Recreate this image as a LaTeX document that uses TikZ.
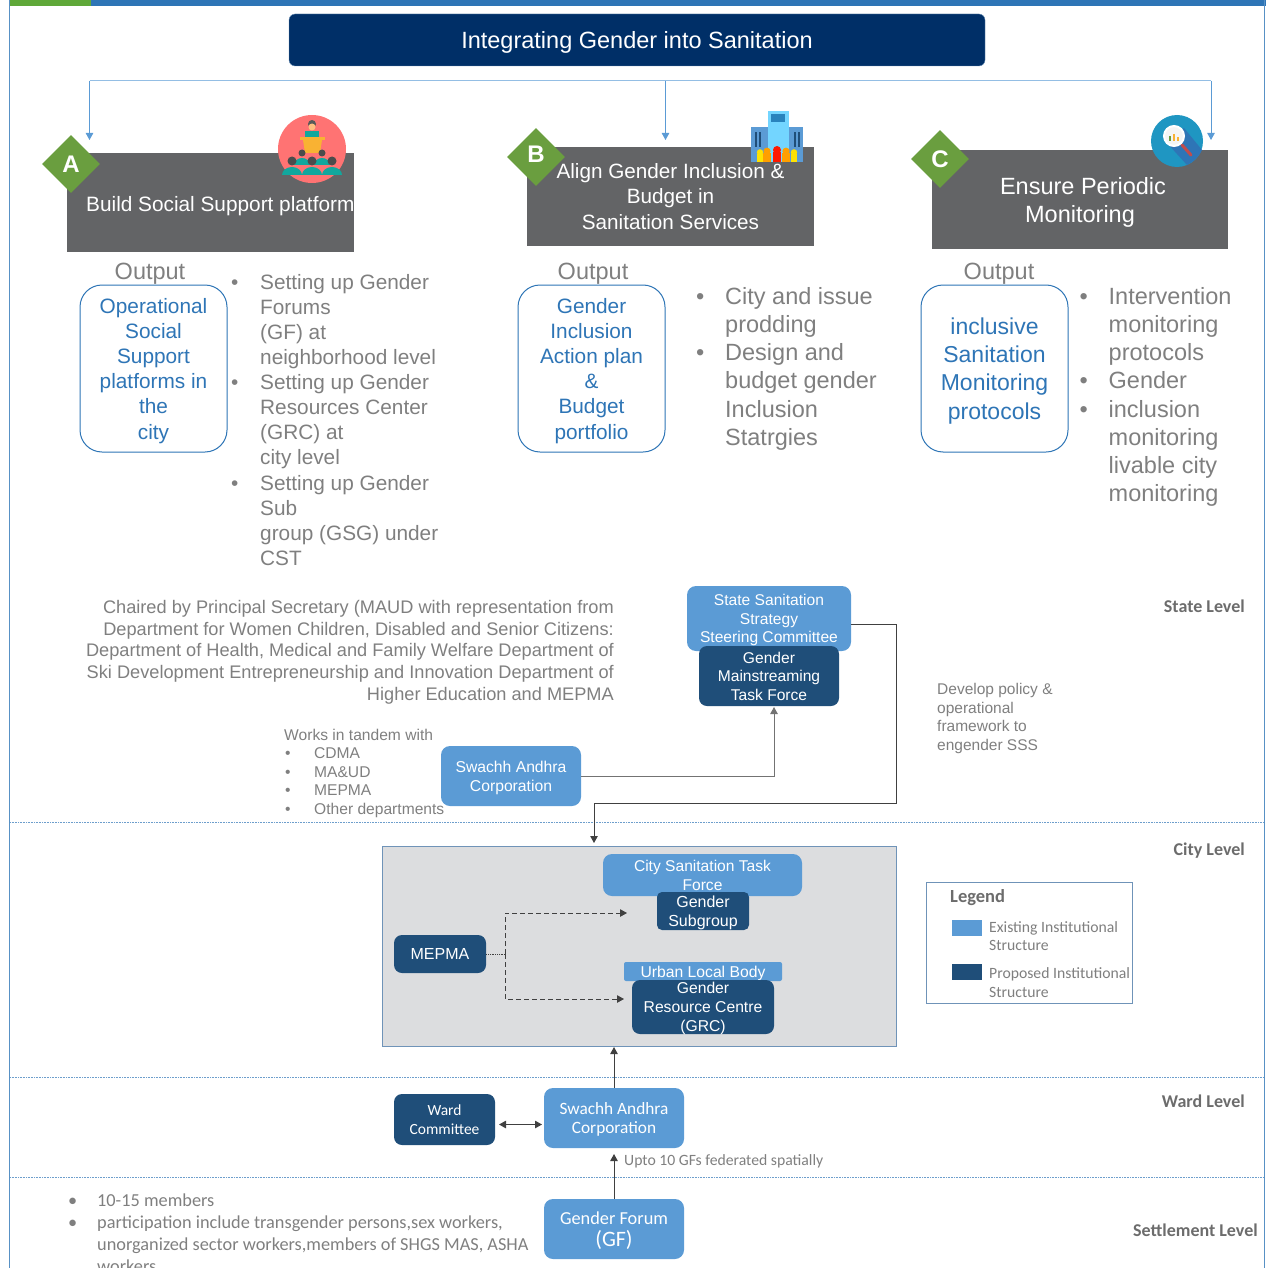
\documentclass[tikz,border=0pt]{standalone}
\usepackage{fontspec}
\setmainfont{Liberation Sans}
\newfontfamily\calibri{Carlito}
\usetikzlibrary{arrows.meta,positioning,shapes.geometric}
\definecolor{headgray}{HTML}{636466}
\definecolor{txtgray}{HTML}{7F7F7F}
\definecolor{lightblue}{HTML}{5B9BD5}
\definecolor{darkblue}{HTML}{1F4E79}
\definecolor{navy}{HTML}{002F67}
\definecolor{midblue}{HTML}{2E75B6}
\definecolor{leafgreen}{HTML}{6A9E3F}
\definecolor{cityfill}{HTML}{DCDDDF}
\definecolor{frameblue}{HTML}{6F93B8}
\definecolor{panelteal}{HTML}{12A79D}
\definecolor{podium}{HTML}{F9B233}
\newcommand{\fsz}[2]{\fontsize{#1}{#2}\selectfont}
\newcommand{\bul}{\makebox[26pt][l]{\hspace{-3pt}\textbullet}}
\newcommand{\nob}{\hspace*{26pt}}
\tikzset{
    plan/.style={x=1pt,y=-1pt,>={Triangle[length=7pt,width=7.5pt]}},
    header/.style={rectangle,fill=headgray,text=white,align=center,inner sep=0pt,
                   minimum width=287pt,minimum height=99pt,text depth=-1.5pt},
    letter/.style={diamond,fill=leafgreen,text=white,inner sep=0pt,minimum width=58pt,
                   minimum height=58pt,font=\fsz{24}{24}\bfseries},
    outbox/.style={rectangle,rounded corners=22pt,draw=midblue,line width=1pt,fill=white,text=midblue,
                   align=center,inner sep=0pt,minimum width=147pt,minimum height=167pt,text depth=-2pt},
    outlabel/.style={text=txtgray,inner sep=0pt,font=\fsz{23.5}{23.5}},
    bodytext/.style={text=txtgray,align=left,anchor=north west,inner sep=0pt},
    exist/.style={rectangle,rounded corners=9pt,fill=lightblue,text=white,align=center,inner sep=0pt,text depth=-1pt},
    propose/.style={rectangle,rounded corners=8pt,fill=darkblue,text=white,align=center,inner sep=0pt,text depth=-1pt},
    level/.style={text=txtgray!85!black,anchor=east,inner sep=0pt,font=\calibri\fsz{18}{18}\bfseries},
    sep/.style={midblue!70,densely dotted,line width=0.6pt},
    feed/.style={lightblue,line width=0.8pt,->},
    link/.style={black!75,line width=1pt,->},
    dashlink/.style={black!75,line width=1pt,dash pattern=on 5pt off 3pt,->},
}
\begin{document}
\begin{tikzpicture}[plan]
    \useasboundingbox (0,0) rectangle (1266,1268);

    % page frame
    \fill[midblue] (10,0) rectangle (1266,6);
    \fill[leafgreen!90!green] (10,0) rectangle (91,6);
    \draw[midblue!80,line width=0.8pt] (9.8,0) -- (9.8,1268);
    \draw[midblue!80,line width=0.8pt] (1264.6,0) -- (1264.6,1268);
    \draw[sep] (10,822.5) -- (1264,822.5);
    \draw[sep] (10,1077) -- (1264,1077);
    \draw[sep] (10,1177.5) -- (1264,1177.5);

    % title and the three branches
    \node[rectangle,rounded corners=6pt,fill=navy,draw=frameblue,text=white,minimum width=696pt,
          minimum height=52pt,inner sep=0pt,text depth=-1pt,font=\fsz{23.5}{24}] (title) at (637,40) {Integrating Gender into Sanitation};
    \coordinate (ba) at (89.5,81);
    \coordinate (bb) at (665.5,81);
    \coordinate (bc) at (1211,81);
    \coordinate (ta) at (89.5,140);
    \coordinate (tb) at (665.5,140);
    \coordinate (tc) at (1211,140);
    \draw[lightblue!65,line width=1pt] (ba) -- (bc);
    \path[feed] (ba) edge (ta);
    \path[feed] (bb) edge (tb);
    \path[feed] (bc) edge (tc);

    % headers
    \node[header] (heada) at (210.5,202.5) {};
    \node[anchor=west,text=white,inner sep=0pt,font=\fsz{20.8}{25.5}] (headatxt) at (86,206) {Build Social Support platform};
    \node[header,font=\fsz{20.7}{25.5}] (headb) at (670.5,196.5) {Align Gender Inclusion \&\\Budget in\\Sanitation Services};
    \node[header,minimum width=296pt,font=\fsz{23.5}{28}] (headc) at (1080,199.5) {\hspace*{6pt}Ensure Periodic\\Monitoring};
    \node[letter] (la) at (71,164) {A};
    \node[letter,text depth=6pt] (lb) at (536,157) {B};
    \node[letter] (lc) at (940,159) {C};

    % icon A
    \fill[red!55!white] (312,149) ellipse (34 and 34);
    \fill[black!65] (312,124) circle (4);
    \fill[orange!50!white] (312,127) circle (3.5);
    \fill[panelteal] (305,137) rectangle (319,131);
    \fill[podium] (300,137) rectangle (325,140);
    \fill[podium] (303,140) -- (322,140) -- (320,153) -- (305,153) -- cycle;
    \foreach \hx in {302,322} {
        \fill[black!70] (\hx,153) circle (3.5);
        \fill[panelteal] (\hx-8,165) arc[start angle=180,end angle=360,x radius=8,y radius=7] -- cycle;
    }
    \foreach \hx in {292,312,332} {
        \fill[black!70] (\hx,161) circle (4.5);
        \fill[panelteal] (\hx-10,175) arc[start angle=180,end angle=360,x radius=10,y radius=8] -- cycle;
    }

    % icon B
    \fill[lightblue] (751,127) rectangle (803,162);
    \fill[blue!30!cyan!55!white] (768,111) rectangle (789,162);
    \fill[midblue!90!cyan] (771,114) rectangle (785,122);
    \fill[darkblue] (755,132) rectangle (757,147);
    \fill[darkblue] (759,132) rectangle (761,147);
    \fill[darkblue] (794,132) rectangle (796,147);
    \fill[darkblue] (798,132) rectangle (800,147);
    \foreach \px/\pc/\pr in {760/yellow!85!orange/3.2,767/orange!75!yellow/3.6,794/yellow!85!orange/3.2,786/orange!75!yellow/3.6,777/red!80!orange/4} {
        \fill[\pc] (\px,162-3*\pr) circle (\pr);
        \fill[\pc] (\px-\pr,162) rectangle (\px+\pr,162-2.6*\pr);
    }

    % icon C
    \fill[midblue!70!cyan!95!black] (1177,141) circle (26);
    \fill[midblue] (1167,143) -- (1184,128) -- (1202,150) .. controls (1198,158) and (1193,162) .. (1187,165) -- cycle;
    \draw[line width=3pt,red!65!black!70!white,line cap=round] (1182,145) -- (1191,155);
    \draw[white,fill=cityfill!30!white,line width=2pt] (1174,136) circle (10);
    \fill[leafgreen] (1169,136) rectangle (1171,141);
    \fill[podium] (1173,134) rectangle (1175,141);
    \fill[podium] (1177,137) rectangle (1179,141);

    % output columns
    \node[outlabel] (oa) at (150,274) {Output};
    \node[outlabel] (ob) at (593,274) {Output};
    \node[outlabel] (oc) at (999,274) {Output};
    \node[outbox,font=\fsz{20.8}{25.2}] (boxa) at (153.5,368.5) {Operational\\Social\\Support\\platforms in\\the\\city};
    \node[outbox,font=\fsz{20.8}{25.2}] (boxb) at (591.5,368.5) {Gender\\Inclusion\\Action plan\\\&\\Budget\\portfolio};
    \node[outbox,text depth=-3.5pt,font=\fsz{23}{28.2}] (boxc) at (994.5,368.5) {inclusive\\Sanitation\\Monitoring\\protocols};

    \node[bodytext,font=\fsz{20.8}{25.1}] (lista) at (234,274) {\bul Setting up Gender\\\nob Forums\\\nob (GF) at\\\nob neighborhood level\\\bul Setting up Gender\\\nob Resources Center\\\nob (GRC) at\\\nob city level\\\bul Setting up Gender\\\nob Sub\\\nob group (GSG) under\\\nob CST};
    \node[bodytext,font=\fsz{23.5}{28.2}] (listb) at (699,287) {\bul City and issue\\\nob prodding\\\bul Design and\\\nob budget gender\\\nob Inclusion\\\nob Statrgies};
    \node[bodytext,font=\fsz{23.5}{28.2}] (listc) at (1082.5,287) {\bul Intervention\\\nob monitoring\\\nob protocols\\\bul Gender\\\bul inclusion\\\nob monitoring\\\nob livable city\\\nob monitoring};

    % state level
    \node[level] (lvs) at (1245,606) {State Level};
    \node[text=txtgray,align=right,anchor=north east,inner sep=0pt,font=\fsz{18.2}{21.8}] (chair) at (614,600) {Chaired by Principal Secretary (MAUD with representation from\\Department for Women Children, Disabled and Senior Citizens:\\Department of Health, Medical and Family Welfare Department of\\Ski Development Entrepreneurship and Innovation Department of\\Higher Education and MEPMA};
    \node[bodytext,font=\fsz{15.6}{18.6}] (tandem) at (284,728.5) {Works in tandem with\\\makebox[30pt][l]{\hspace{1pt}\textbullet}CDMA\\\makebox[30pt][l]{\hspace{1pt}\textbullet}MA\&UD\\\makebox[30pt][l]{\hspace{1pt}\textbullet}MEPMA\\\makebox[30pt][l]{\hspace{1pt}\textbullet}Other departments};
    \node[bodytext,font=\fsz{15.5}{18.4}] (policy) at (937,683.5) {Develop policy \&\\operational\\framework to\\engender SSS};
    \node[exist,minimum width=164pt,minimum height=65pt,text depth=-2pt,font=\fsz{15.6}{18.6}] (sssc) at (769,618.5) {State Sanitation\\Strategy\\Steering Committee};
    \node[propose,minimum width=140pt,minimum height=60pt,text depth=-5pt,font=\fsz{15.6}{18.6}] (gmtf) at (769,676) {Gender\\Mainstreaming\\Task Force};
    \node[exist,minimum width=140pt,minimum height=60pt,font=\fsz{15.7}{19}] (sac) at (511,776) {Swachh Andhra\\Corporation};
    \coordinate (ssscout) at (851,624);
    \coordinate (gmtfin) at (774,707);
    \coordinate (citytop) at (594,843);
    \coordinate (turn) at (896.5,803);
    \draw[black!55!white,line width=1pt,->] (sac.east) -| (gmtfin);
    \draw[link] (ssscout) -| (turn) -| (citytop);

    % city level
    \node[level] (lvc) at (1245,851) {City Level};
    \node[rectangle,fill=cityfill,draw=frameblue,line width=1pt,minimum width=514pt,minimum height=200pt,inner sep=0pt] (city) at (639.5,946) {};
    \node[exist,minimum width=199pt,minimum height=42pt,font=\fsz{15.6}{19}] (cstf) at (702.5,875) {City Sanitation Task\\Force};
    \node[propose,rounded corners=5pt,minimum width=92pt,minimum height=38pt,font=\fsz{16}{19}] (subgroup) at (703,911) {Gender\\Subgroup};
    \node[propose,minimum width=92pt,minimum height=38pt,text depth=-3pt,font=\fsz{16}{19}] (mepma) at (440,954) {MEPMA};
    \node[exist,rounded corners=2pt,minimum width=158pt,minimum height=19pt,font=\fsz{15.7}{19}] (ulb) at (703,971.5) {Urban Local Body};
    \node[propose,minimum width=142pt,minimum height=54pt,text depth=-3pt,font=\fsz{15.7}{19}] (grc) at (703,1007) {Gender\\Resource Centre\\(GRC)};
    \coordinate (fork) at (505,954);
    \coordinate (tosub) at (627,913);
    \coordinate (togrc) at (624,999);
    \draw[black!75,line width=0.8pt,densely dotted] (mepma.east) -- (fork);
    \draw[dashlink] (fork) |- (tosub);
    \draw[dashlink] (fork) |- (togrc);

    % legend
    \node[rectangle,draw=frameblue,line width=1pt,fill=white,minimum width=206pt,minimum height=121pt,inner sep=0pt] (legend) at (1029,942.5) {};
    \node[anchor=west,text=txtgray!85!black,inner sep=0pt,font=\calibri\fsz{18.5}{19}\bfseries] (legtitle) at (950,898) {Legend};
    \node[rectangle,fill=lightblue,minimum width=30pt,minimum height=16pt,inner sep=0pt] (swexist) at (967,928) {};
    \node[rectangle,fill=darkblue,minimum width=30pt,minimum height=16pt,inner sep=0pt] (swprop) at (967,972) {};
    \node[bodytext,font=\calibri\fsz{15.7}{18.2}] (lexist) at (989,921) {Existing Institutional\\Structure};
    \node[bodytext,font=\calibri\fsz{15.7}{19}] (lprop) at (989,967) {Proposed Institutional\\Structure};

    % ward level
    \node[level] (lvw) at (1245,1101) {Ward Level};
    \node[propose,minimum width=101pt,minimum height=51pt,text depth=-3pt,font=\calibri\fsz{15.5}{19}] (ward) at (444.5,1119.5) {Ward\\Committee};
    \node[exist,minimum width=140pt,minimum height=60pt,font=\calibri\fsz{17.3}{19}] (sacw) at (614,1118) {Swachh Andhra\\Corporation};
    \node[anchor=west,text=txtgray,inner sep=0pt,font=\calibri\fsz{15.7}{17}] (upto) at (624,1161) {Upto 10 GFs federated spatially};
    \coordinate (citybot) at (614,1047);
    \coordinate (wardbot) at (614,1154);
    \coordinate (wardin) at (499,1124.5);
    \coordinate (sacin) at (542,1124.5);
    \draw[link] (sacw.north) -- (citybot);
    \draw[link,<->] (wardin) -- (sacin);

    % settlement level
    \node[level] (lvg) at (1258,1230) {Settlement Level};
    \node[exist,minimum width=140pt,minimum height=60pt,font=\calibri\fsz{18.3}{22}] (gf) at (614,1229) {Gender Forum\\{\fsz{22}{22}(GF)}};
    \draw[link] (gf.north) -- (wardbot);
    \node[bodytext,font=\calibri\fsz{18.3}{22}] (members) at (71,1194) {\bul 10-15 members\\\bul participation include transgender persons,sex workers,\\\nob unorganized sector workers,members of SHGS MAS, ASHA\\\nob workers};
\end{tikzpicture}
\end{document}
